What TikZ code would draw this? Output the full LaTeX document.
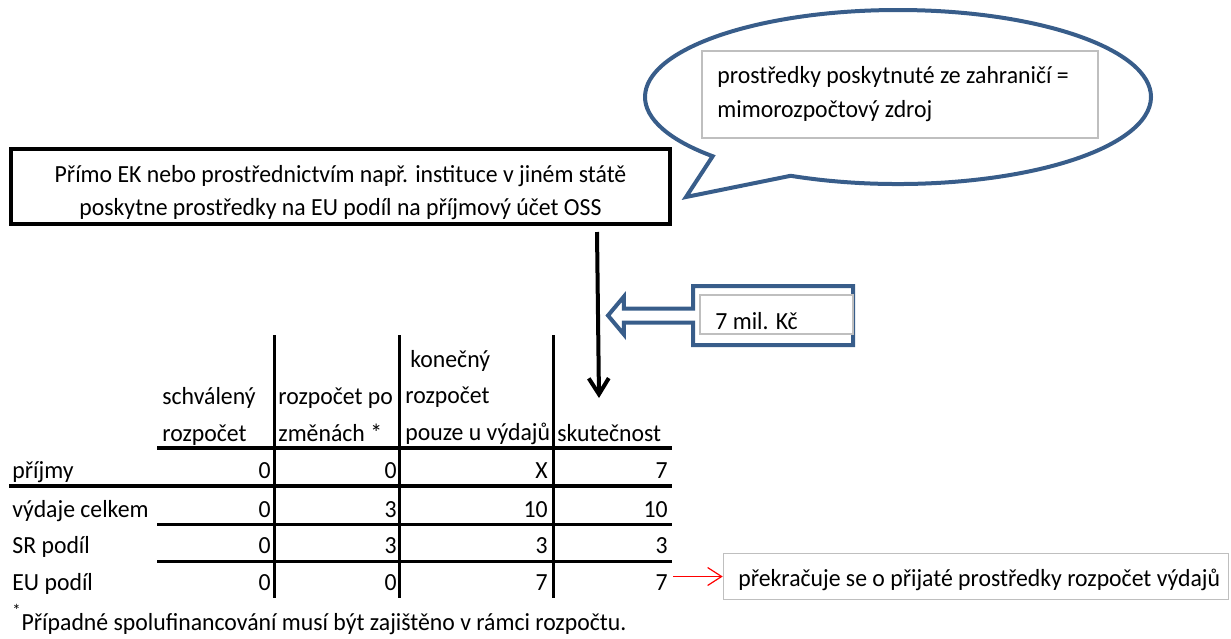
\documentclass[tikz,border=0pt]{standalone}
\usepackage{fontspec}
\setmainfont{Carlito}[FakeStretch=0.965]
\usepackage{xcolor}
\usepackage{tikz}
\usetikzlibrary{shapes,shapes.callouts,shapes.arrows,arrows.meta,positioning,calc}
\definecolor{calloutblue}{RGB}{56,93,138}
\definecolor{framegray}{RGB}{191,191,191}

\begin{document}
\begin{tikzpicture}[x=0.5pt,y=-0.5pt,
        every node/.style={font=\fontsize{12.3}{18.25}\selectfont, inner sep=0pt},
        rowlabel/.style={anchor=base west},
        numcell/.style={anchor=base east},
        headcell/.style={anchor=base west, align=left},
        grayframe/.style={draw=framegray, line width=0.8pt, fill=white},
        gridline/.style={line width=1.5pt},
        flow/.style={line width=2pt, -{Straight Barb[length=8pt,width=10pt]}},
        redarrow/.style={red, line width=0.6pt, -{Straight Barb[length=7pt,width=9pt]}}
    ]
    \useasboundingbox (0,0) rectangle (1231,638);
    % callout with foreign funds
    \node[ellipse callout, draw=calloutblue, line width=2pt, minimum width=253pt, minimum height=87pt,
        callout absolute pointer={(686,197)}, callout pointer arc=22] (ekcallout) at (898,97) {};
    \node[grayframe, minimum width=198pt, minimum height=43.5pt] (ekframe) at (900,94.5) {};
    \node[headcell, font=\fontsize{12.3}{17}\selectfont] (ektext) at (717,117)
        {prostředky poskytnuté ze zahraničí =\\mimorozpočtový zdroj};
    % source of the money
    \node[draw, line width=2pt, minimum width=329.5pt, minimum height=37.5pt, align=center,
        text height=28.5pt, text depth=0pt,
        font=\fontsize{12.3}{16.5}\selectfont] (source) at (340.5,186.5)
        {Přímo EK nebo prostřednictvím např. instituce v jiném státě\\poskytne prostředky na EU podíl na příjmový účet OSS};
    \coordinate (flowtop) at (597,232);
    \coordinate (flowend) at (599,398);
    \draw[flow] (flowtop) -- (flowend);
    % amount arrow
    \node[arrow box, draw=calloutblue, line width=2pt, minimum width=80pt, minimum height=29.5pt,
        arrow box arrows={west:41.5pt}, arrow box shaft width=7pt, arrow box head extend=6pt,
        arrow box tip angle=100] (amountbox) at (773,315.5) {};
    \node[grayframe, minimum width=76.5pt, minimum height=19.5pt] (amountframe) at (776.5,314.5) {};
    \node[rowlabel] (amounttext) at (715,329) {7 mil. Kč};
    % table grid
    \foreach \gx in {274,399,553}
        \draw[gridline] (\gx,335) -- (\gx,598);
    \draw[gridline, line width=1.7pt] (157,448) -- (672,448);
    \draw[gridline, line width=2pt] (9,486) -- (672,486);
    \draw[gridline] (157,524) -- (672,524);
    \draw[gridline] (157,561) -- (672,561);
    % header
    \node[headcell] (hschval) at (162,441) {schválený\\rozpočet};
    \node[headcell] (hzmeny) at (278,441) {rozpočet po\\změnách *};
    \node[headcell] (hkonec) at (405,440) {\hspace{2.5pt}konečný\\rozpočet\\pouze u výdajů};
    \node[rowlabel] (hskut) at (557,441) {skutečnost};
    % rows
    \foreach \rname/\rtext/\ry/\va/\vb/\vc/\vd in {
            prijmy/příjmy/478/0/0/X/7,
            vydaje/výdaje celkem/517/0/3/10/10,
            sr/SR podíl/553/0/3/3/3,
            eu/EU podíl/590/0/0/7/7} {
        \node[rowlabel] (\rname) at (12,\ry) {\rtext};
        \node[numcell] (\rname-1) at (271,\ry) {\va};
        \node[numcell] (\rname-2) at (397,\ry) {\vb};
        \node[numcell] (\rname-3) at (548,\ry) {\vc};
        \node[numcell] (\rname-4) at (668,\ry) {\vd};
    }
    \node[rowlabel] (footnote) at (12,630)
        {\raisebox{0.2em}{\textsuperscript{*}}Případné spolufinancování musí být zajištěno v rámci rozpočtu.};
    % note on exceeding
    \node[grayframe, minimum width=252.5pt, minimum height=23pt] (noteframe) at (976,576.5) {};
    \node[rowlabel] (notetext) at (738,586) {překračuje se o přijaté prostředky rozpočet výdajů};
    \coordinate (eutail) at ([xshift=2.5pt]eu-4.east);
    \draw[redarrow] (eutail |- noteframe.west) -- (noteframe.west);
\end{tikzpicture}
\end{document}
